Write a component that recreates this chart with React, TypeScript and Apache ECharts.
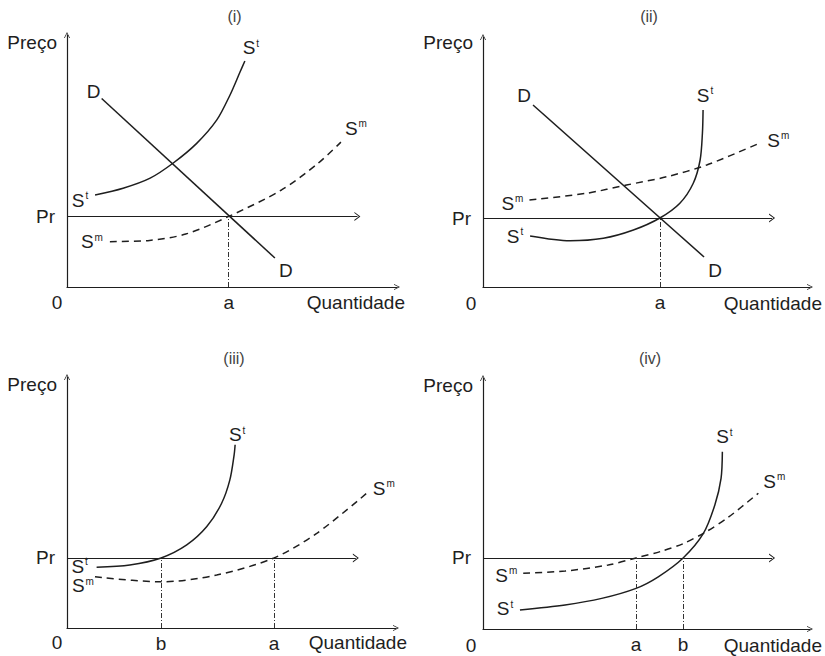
import React, { useEffect, useRef } from 'react';
import * as echarts from 'echarts';

// ---------- data (axis units: 0..10 on both axes of every panel) ----------
const PANEL_TITLES = ['(i)', '(ii)', '(iii)', '(iv)'];
const PRICE_LEVEL = [2.8, 2.76, 2.79, 2.83];           // "Pr"
const PRICE_LINE_END = [8.8, 8.84, 8.78, 8.84];
const QTY_TICKS = [[4.9], [5.41], [2.86, 6.29], [4.68, 6.12]];
const QTY_TICK_LABELS = [['a'], ['a'], ['b', 'a'], ['a', 'b']];

const D_I = [[1.05, 7.48], [6.3, 1.15]];
const ST_I = [[0.85, 3.65], [1.7, 3.92], [2.52, 4.32], [3.22, 4.92], [3.93, 5.7], [4.54, 6.63], [4.94, 7.62], [5.24, 8.52], [5.39, 8.97]];
const SM_I = [[1.3, 1.8], [2.5, 1.85], [3.6, 2.1], [4.9, 2.8], [6.5, 3.85], [7.6, 4.9], [8.3, 5.75]];

const D_II = [[1.53, 7.28], [6.76, 1.2]];
const ST_II = [[1.44, 2.04], [2.66, 1.85], [3.68, 1.95], [4.6, 2.28], [5.41, 2.76], [6.02, 3.35], [6.43, 4.15], [6.64, 5.08], [6.71, 6.15], [6.73, 7.08]];
const SM_II = [[1.42, 3.48], [3.17, 3.75], [4.39, 4.08], [5.62, 4.41], [6.84, 4.88], [8.45, 5.75]];

const ST_III = [[0.9, 2.42], [1.91, 2.51], [2.86, 2.79], [3.64, 3.31], [4.25, 4.04], [4.7, 4.97], [4.95, 5.9], [5.08, 6.9], [5.11, 7.3]];
const SM_III = [[0.85, 2.04], [2.86, 1.84], [4.55, 2.11], [6.29, 2.79], [7.59, 3.77], [9.11, 5.37]];

const ST_IV = [[1.13, 0.76], [2.51, 0.96], [3.63, 1.22], [4.68, 1.62], [5.36, 2.08], [6.12, 2.83], [6.74, 3.81], [7.09, 4.94], [7.28, 6.0], [7.32, 7.06]];
const SM_IV = [[1.23, 2.22], [2.51, 2.31], [3.83, 2.55], [4.68, 2.83], [5.46, 3.1], [6.12, 3.4], [6.79, 3.85], [7.5, 4.45], [8.42, 5.41]];

// ---------- layout & style ----------
const FONT = '"Liberation Sans", Arial, sans-serif';
const FS = 19;
const INK = '#1e1e1e';
const ARROW = 'path://M0,10L5,0L10,10L8.7,10L5,2.6L1.3,10Z';

const GRIDS = [
  { left: 67, top: 35, width: 330, height: 252 },
  { left: 483, top: 37, width: 327, height: 250 },
  { left: 67, top: 377, width: 329, height: 251 },
  { left: 483, top: 378, width: 327, height: 251 },
];

const RICH = {
  s: { fontSize: FS, fontFamily: FONT, color: INK, lineHeight: 21 },
  t: { fontSize: 10, fontFamily: FONT, color: INK, lineHeight: 12, verticalAlign: 'top' as const, padding: [1, 0, 0, 1] },
};
const TXT: Record<string, string> = { D: '{s|D}', St: '{s|S}{t|t}', Sm: '{s|S}{t|m}' };

type Lbl = { at: 'start' | 'end'; offset: [number, number] };
type CurveSpec = { name: 'D' | 'St' | 'Sm'; data: number[][]; labels: Lbl[] };

const PANELS: CurveSpec[][] = [
  [
    { name: 'St', data: ST_I, labels: [{ at: 'start', offset: [-15, 5] }, { at: 'end', offset: [6, -13] }] },
    { name: 'D', data: D_I, labels: [{ at: 'start', offset: [-8, -7] }, { at: 'end', offset: [11, 12] }] },
    { name: 'Sm', data: SM_I, labels: [{ at: 'start', offset: [-18, 0] }, { at: 'end', offset: [15, -14] }] },
  ],
  [
    { name: 'St', data: ST_II, labels: [{ at: 'start', offset: [-15, 0] }, { at: 'end', offset: [2, -15] }] },
    { name: 'D', data: D_II, labels: [{ at: 'start', offset: [-9, -10] }, { at: 'end', offset: [11, 13] }] },
    { name: 'Sm', data: SM_II, labels: [{ at: 'start', offset: [-17, 3] }, { at: 'end', offset: [19, -3] }] },
  ],
  [
    { name: 'St', data: ST_III, labels: [{ at: 'start', offset: [-17, -1] }, { at: 'end', offset: [2, -10] }] },
    { name: 'Sm', data: SM_III, labels: [{ at: 'start', offset: [-12, 9] }, { at: 'end', offset: [17, -5] }] },
  ],
  [
    { name: 'St', data: ST_IV, labels: [{ at: 'start', offset: [-15, -1] }, { at: 'end', offset: [2, -15] }] },
    { name: 'Sm', data: SM_IV, labels: [{ at: 'start', offset: [-17, 2] }, { at: 'end', offset: [16, -12] }] },
  ],
];

function buildSeries() {
  const series: any[] = [];
  PANELS.forEach((curves, k) => {
    curves.forEach((c, ci) => {
      const n = c.data.length;
      const data = c.data.map((p, i) => {
        const lbl = c.labels.find((l) => (l.at === 'start' ? i === 0 : i === n - 1));
        if (!lbl) return p;
        return {
          value: p,
          label: {
            show: true,
            position: 'inside',
            offset: lbl.offset,
            formatter: TXT[c.name],
            rich: RICH,
            align: 'center',
            verticalAlign: 'middle',
          },
        };
      });
      const s: any = {
        type: 'line',
        name: `${c.name}-${k}`,
        xAxisIndex: k,
        yAxisIndex: k,
        data,
        smooth: c.name === 'D' ? false : 0.3,
        symbol: 'circle',
        symbolSize: 0,
        showSymbol: true,
        silent: true,
        clip: false,
        lineStyle: { color: INK, width: 1.5, type: c.name === 'Sm' ? [7, 5] : 'solid' },
        itemStyle: { color: INK },
        emphasis: { disabled: true },
        z: 3,
      };
      if (ci === 0) {
        const pr = PRICE_LEVEL[k];
        const lines: any[] = [
          [
            { coord: [0, pr], symbol: 'none', lineStyle: { type: 'solid', width: 1.2, color: INK } },
            { coord: [PRICE_LINE_END[k], pr], symbol: ARROW, symbolSize: [9, 6] },
          ],
        ];
        QTY_TICKS[k].forEach((q) => {
          lines.push([
            { coord: [q, 0], symbol: 'none', lineStyle: { type: [5, 2, 1, 2], width: 1, color: '#333' } },
            { coord: [q, pr], symbol: 'none' },
          ]);
        });
        s.markLine = {
          silent: true,
          symbol: ['none', 'none'],
          label: { show: false },
          lineStyle: { type: 'solid', color: INK, width: 1.2 },
          emphasis: { disabled: true },
          data: lines,
        };
      }
      series.push(s);
    });
  });
  return series;
}

function buildOption() {
  const axisLine = {
    show: true,
    onZero: false,
    symbol: ['none', ARROW],
    symbolSize: [9, 6],
    lineStyle: { color: INK, width: 1.2 },
  };
  const labelBase = { fontSize: FS, fontFamily: FONT, color: INK };
  const graphic: any[] = [];
  const preco = [[57, 42], [473, 42], [57, 384], [473, 385]];
  const quant = [[405, 302], [822, 303], [407, 642], [822, 645]];
  const zero = [[57, 302], [471, 303], [57, 642], [471, 645]];
  const titles = [[234.5, 16.5], [649, 16.5], [234, 358], [650, 358]];
  for (let k = 0; k < 4; k++) {
    graphic.push({ type: 'text', x: preco[k][0], y: preco[k][1], silent: true, style: { text: 'Preço', align: 'right', verticalAlign: 'middle', font: `${FS}px ${FONT}`, fill: INK } });
    graphic.push({ type: 'text', x: quant[k][0], y: quant[k][1], silent: true, style: { text: 'Quantidade', align: 'right', verticalAlign: 'middle', font: `${FS}px ${FONT}`, fill: INK } });
    graphic.push({ type: 'text', x: zero[k][0], y: zero[k][1], silent: true, style: { text: '0', align: 'center', verticalAlign: 'middle', font: `${FS}px ${FONT}`, fill: INK } });
    graphic.push({ type: 'text', x: titles[k][0], y: titles[k][1], silent: true, style: { text: PANEL_TITLES[k], align: 'center', verticalAlign: 'middle', font: `16px ${FONT}`, fill: '#444' } });
  }
  return {
    animation: false,
    backgroundColor: '#fff',
    grid: GRIDS.map((g) => ({ ...g, containLabel: false })),
    xAxis: GRIDS.map((_, k) => ({
      gridIndex: k,
      type: 'value',
      min: 0,
      max: 10,
      axisLine,
      axisTick: { show: false },
      splitLine: { show: false },
      axisLabel: {
        ...labelBase,
        margin: 6,
        customValues: QTY_TICKS[k],
        formatter: (v: number) => {
          const ticks = QTY_TICKS[k];
          let best = 0;
          ticks.forEach((t, i) => { if (Math.abs(t - v) < Math.abs(ticks[best] - v)) best = i; });
          return QTY_TICK_LABELS[k][best];
        },
      },
    })),
    yAxis: GRIDS.map((_, k) => ({
      gridIndex: k,
      type: 'value',
      min: 0,
      max: 10,
      axisLine,
      axisTick: { show: false },
      splitLine: { show: false },
      axisLabel: { ...labelBase, margin: 12, customValues: [PRICE_LEVEL[k]], formatter: () => 'Pr' },
    })),
    series: buildSeries(),
    graphic,
  };
}

export default function App() {
  const ref = useRef<HTMLDivElement>(null);
  useEffect(() => {
    const chart = echarts.init(ref.current!, null, { renderer: 'svg' });
    chart.setOption(buildOption() as any);
    return () => chart.dispose();
  }, []);
  return (
    <div
      ref={ref}
      style={{ position: 'fixed', left: 0, top: 0, width: 825, height: 656, background: '#fff' }}
    />
  );
}
